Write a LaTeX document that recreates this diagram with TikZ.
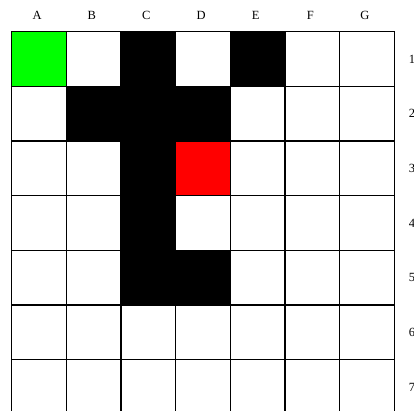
\documentclass[tikz,border=0pt]{standalone}
\usepackage{fontspec}
\setmainfont{Liberation Serif}
\begin{document}
\begin{tikzpicture}[x=1pt,y=-1pt,
  cell/.style={draw=black,line width=1.1pt,minimum size=54.66pt,inner sep=0pt,outer sep=0pt,anchor=center},
  wall/.style={cell,fill=black},
  start/.style={cell,fill={rgb,255:red,0;green,255;blue,0}},
  goal/.style={cell,fill={rgb,255:red,255;green,0;blue,0}},
  lbl/.style={font=\fontsize{12.5}{14}\selectfont,inner sep=0pt}]
\useasboundingbox (0,0) rectangle (414,410);
\clip (0,0) rectangle (414,410);
\def\cw{54.66}
\foreach \r in {1,...,7}{
  \foreach \c in {1,...,7}{
    \node[cell] (c-\c-\r) at ({11.7+(\c-0.5)*\cw},{31.7+(\r-0.5)*\cw}) {};
  }
}
% walls
\foreach \c/\r in {3/1,5/1,2/2,3/2,4/2,3/3,3/4,3/5,4/5}{
  \node[wall] (w-\c-\r) at (c-\c-\r) {};
}
\node[start] (s) at (c-1-1) {};
\node[goal] (g) at (c-4-3) {};
% column labels
\foreach \c/\t in {1/A,2/B,3/C,4/D,5/E,6/F,7/G}{
  \node[lbl] (col-\t) at ({11.7+(\c-0.5)*\cw-2},15) {\t};
}
% row labels
\foreach \r in {1,...,7}{
  \node[lbl] (row-\r) at (412,{31.7+(\r-0.5)*\cw}) {\r};
}
\end{tikzpicture}
\end{document}
